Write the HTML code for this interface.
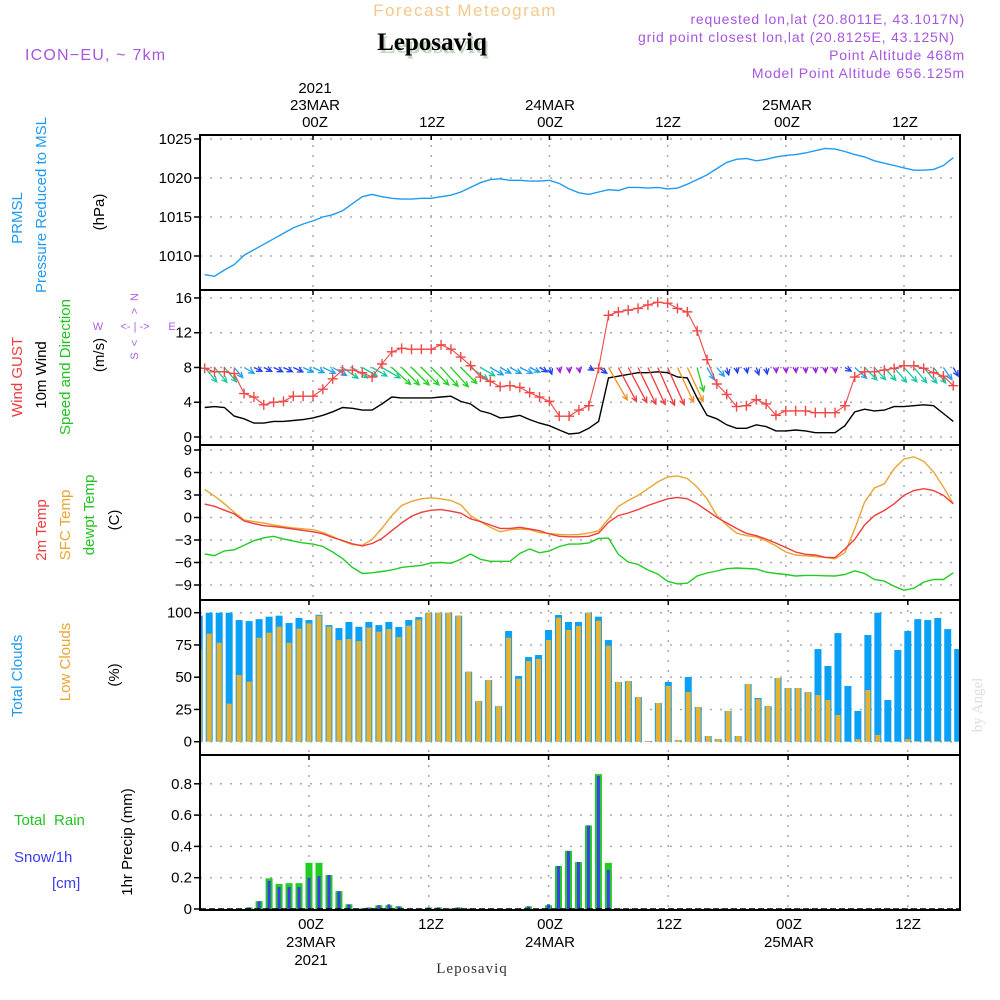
<!DOCTYPE html>
<html><head><meta charset="utf-8">
<style>
html,body{margin:0;padding:0;background:#fff;}
svg{display:block;}
text{font-family:"Liberation Sans",sans-serif;}
text.serif{font-family:"Liberation Serif",serif;}
</style></head>
<body>
<svg id="chart" width="1000" height="1000" viewBox="0 0 1000 1000" xmlns="http://www.w3.org/2000/svg">
<g id="texts">
<text x="465" y="16" text-anchor="middle" font-size="17" fill="#f3c98a" letter-spacing="1.5">Forecast Meteogram</text>
<text class="serif" x="432" y="50" text-anchor="middle" font-size="25" font-weight="bold" fill="#9bb89b" opacity="0.6" transform="translate(2,3)">Leposaviq</text>
<text class="serif" x="432" y="50" text-anchor="middle" font-size="25" font-weight="bold" fill="#000">Leposaviq</text>
<text x="965" y="24" text-anchor="end" font-size="14" fill="#a855e0" letter-spacing="0.8">requested lon,lat (20.8011E, 43.1017N)</text>
<text x="955" y="42" text-anchor="end" font-size="14" fill="#a855e0" letter-spacing="0.8">grid point closest lon,lat (20.8125E, 43.125N)</text>
<text x="965" y="60" text-anchor="end" font-size="14" fill="#a855e0" letter-spacing="0.8">Point Altitude 468m</text>
<text x="965" y="78" text-anchor="end" font-size="14" fill="#a855e0" letter-spacing="0.8">Model Point Altitude 656.125m</text>
<text x="25" y="60" font-size="16" fill="#a855e0" letter-spacing="1.2">ICON−EU, ~ 7km</text>

<g font-size="15" fill="#000" text-anchor="middle">
<text x="315" y="93">2021</text>
<text x="315" y="110">23MAR</text>
<text x="315" y="127">00Z</text>
<text x="432" y="127">12Z</text>
<text x="550" y="110">24MAR</text>
<text x="550" y="127">00Z</text>
<text x="668" y="127">12Z</text>
<text x="787" y="110">25MAR</text>
<text x="787" y="127">00Z</text>
<text x="905" y="127">12Z</text>
</g>
<g font-size="15" fill="#000" text-anchor="middle">
<text x="311" y="929">00Z</text>
<text x="311" y="947">23MAR</text>
<text x="311" y="965">2021</text>
<text x="431" y="929">12Z</text>
<text x="550" y="929">00Z</text>
<text x="550" y="947">24MAR</text>
<text x="669" y="929">12Z</text>
<text x="789" y="929">00Z</text>
<text x="789" y="947">25MAR</text>
<text x="908" y="929">12Z</text>
</g>
<text class="serif" x="472" y="973" text-anchor="middle" font-size="15" fill="#333" letter-spacing="1">Leposaviq</text>
<text class="serif" transform="translate(982,705) rotate(-90)" text-anchor="middle" font-size="15" fill="#ddd">by Angel</text>

<g font-size="15" text-anchor="middle" dominant-baseline="middle">
<text transform="translate(18,218) rotate(-90)" fill="#1e9bf0">PRMSL</text>
<text transform="translate(42,205) rotate(-90)" fill="#1e9bf0">Pressure Reduced to MSL</text>
<text transform="translate(100,212) rotate(-90)" fill="#000">(hPa)</text>
<text transform="translate(18,377) rotate(-90)" fill="#f03c3c">Wind GUST</text>
<text transform="translate(42,375) rotate(-90)" fill="#000">10m Wind</text>
<text transform="translate(66,367) rotate(-90)" fill="#22c422">Speed and Direction</text>
<text transform="translate(100,355) rotate(-90)" fill="#000">(m/s)</text>
<text transform="translate(42,530) rotate(-90)" fill="#f03c3c">2m Temp</text>
<text transform="translate(66,525) rotate(-90)" fill="#eaa530">SFC Temp</text>
<text transform="translate(90,515) rotate(-90)" fill="#22c422">dewpt Temp</text>
<text transform="translate(115,520) rotate(-90)" fill="#000">(C)</text>
<text transform="translate(18,676) rotate(-90)" fill="#1e9bf0">Total Clouds</text>
<text transform="translate(66,662) rotate(-90)" fill="#eaa530">Low Clouds</text>
<text transform="translate(115,675) rotate(-90)" fill="#000">(%)</text>
<text transform="translate(128,842) rotate(-90)" fill="#000">1hr Precip (mm)</text>
</g>
<text x="14" y="825" font-size="15" fill="#22c422" xml:space="preserve">Total  Rain</text>
<text x="14" y="862" font-size="15" fill="#3c3cf0">Snow/1h</text>
<text x="52" y="888" font-size="15" fill="#3c3cf0">[cm]</text>

<g fill="#b060e0" font-size="11" text-anchor="middle" dominant-baseline="middle">
<text transform="translate(135,297) rotate(-90)">N</text>
<text transform="translate(135,311) rotate(-90)">&gt;</text>
<text x="135" y="327">&lt;- | -&gt;</text>
<text transform="translate(135,343) rotate(-90)">&lt;</text>
<text transform="translate(135,356) rotate(-90)">S</text>
<text x="98" y="327">W</text>
<text x="172" y="327">E</text>
</g>
</g>
<g id="plots"></g>
</svg>
<script>
// ---- data (hourly, hour -11 .. 65 relative to 23MAR 00Z) ----
const pressure = [1007.6,1007.4,1008.2,1008.9,1010.1,1010.8,1011.5,1012.2,1012.9,1013.6,1014.1,1014.5,1015.0,1015.3,1015.8,1016.7,1017.6,1017.9,1017.6,1017.4,1017.3,1017.3,1017.4,1017.4,1017.6,1017.8,1018.2,1018.8,1019.4,1019.8,1019.9,1019.7,1019.7,1019.6,1019.6,1019.7,1019.3,1018.6,1018.1,1017.9,1018.2,1018.5,1018.4,1018.8,1018.8,1018.7,1018.8,1018.6,1018.7,1019.2,1019.8,1020.4,1021.2,1022.0,1022.4,1022.5,1022.2,1022.4,1022.7,1022.9,1023.0,1023.2,1023.5,1023.8,1023.7,1023.4,1023.0,1022.7,1022.2,1021.9,1021.6,1021.3,1021.0,1021.0,1021.1,1021.6,1022.6];
const windGust = [7.9,7.5,7.5,7.3,5.0,4.6,3.7,4.0,4.1,4.7,4.7,4.7,5.5,6.7,7.7,7.7,7.4,6.9,8.4,9.8,10.2,10.1,10.1,10.1,10.6,10.1,9.2,8.2,6.9,6.4,5.8,5.9,5.7,5.1,4.6,4.1,2.4,2.4,3.1,3.6,7.9,14.0,14.4,14.6,14.8,15.2,15.5,15.4,14.8,14.4,12.2,8.9,6.1,4.9,3.5,3.6,4.3,3.8,2.5,3.0,3.0,3.0,2.8,2.8,2.8,3.6,6.9,7.5,7.5,7.7,7.9,8.2,8.2,7.9,7.4,7.0,5.9];
const windSpeed = [3.4,3.5,3.4,2.4,2.1,1.6,1.6,1.8,1.8,1.9,2.0,2.2,2.5,2.9,3.4,3.3,3.1,3.1,3.8,4.6,4.5,4.5,4.5,4.5,4.6,4.7,4.1,3.8,3.0,2.7,2.2,2.3,2.5,2.0,1.6,1.3,0.8,0.35,0.45,1.0,1.8,6.8,7.0,7.2,7.4,7.4,7.5,7.4,6.9,6.8,4.5,2.5,2.1,1.4,1.0,1.0,1.4,1.2,0.7,0.7,0.8,0.7,0.5,0.5,0.5,1.3,2.9,3.2,3.0,3.1,3.5,3.5,3.6,3.7,3.6,2.7,1.8];
const windDir = [320,320,320,320,300,295,295,295,295,295,295,295,295,300,305,305,300,300,300,312,315,315,315,315,318,318,315,305,300,300,298,298,295,295,300,340,350,355,350,300,305,330,332,332,334,335,336,336,335,335,345,330,320,345,350,350,340,350,355,355,355,355,355,355,355,300,312,315,318,318,320,318,320,320,322,325,330];
const temp2m = [1.78,1.5,0.97,0.48,-0.46,-0.82,-1.09,-1.22,-1.36,-1.54,-1.72,-1.9,-2.17,-2.66,-3.06,-3.5,-3.78,-3.47,-2.8,-1.76,-0.73,0.17,0.7,0.97,1.06,0.84,0.57,-0.19,-0.55,-1.0,-1.45,-1.45,-1.3,-1.54,-1.76,-2.2,-2.5,-2.57,-2.57,-2.5,-2.08,-0.64,0.25,0.6,1.06,1.6,2.05,2.5,2.68,2.5,1.83,0.93,0.03,-0.73,-1.45,-2.12,-2.43,-2.88,-3.42,-4.0,-4.6,-4.9,-5.0,-5.3,-5.35,-4.2,-2.9,-1.0,0.25,0.93,1.83,2.95,3.6,3.84,3.6,2.95,1.83];
const tempSfc = [3.75,2.86,1.83,0.7,-0.33,-0.55,-0.73,-1.0,-1.22,-1.4,-1.5,-1.63,-2.0,-2.53,-3.15,-3.6,-3.7,-2.9,-1.45,0.25,1.6,2.14,2.5,2.63,2.5,2.27,1.7,0.25,-0.55,-1.3,-1.9,-1.63,-1.54,-1.63,-2.0,-2.12,-2.26,-2.3,-2.26,-2.08,-1.76,-0.19,1.47,2.27,2.95,3.84,4.74,5.4,5.55,5.2,4.07,2.5,0.25,-1.0,-2.08,-2.43,-2.57,-3.1,-3.78,-4.6,-5.0,-5.1,-5.2,-5.35,-5.5,-4.7,-1.5,2.05,3.93,4.5,6.5,7.8,8.1,7.5,6.1,4.07,1.83];
const dewpoint = [-4.86,-5.08,-4.45,-4.3,-3.7,-3.1,-2.7,-2.5,-2.85,-3.15,-3.38,-3.55,-3.87,-4.6,-5.48,-6.65,-7.46,-7.37,-7.2,-7.0,-6.65,-6.5,-6.38,-6.07,-6.0,-6.1,-5.57,-4.86,-5.57,-5.84,-5.84,-5.84,-4.77,-4.2,-4.7,-4.45,-3.87,-3.55,-3.55,-3.38,-2.8,-2.75,-4.9,-5.93,-6.25,-7.0,-7.55,-8.5,-8.85,-8.76,-7.8,-7.4,-7.14,-6.83,-6.74,-6.8,-6.87,-7.28,-7.46,-7.6,-7.8,-7.72,-7.72,-7.77,-7.8,-7.6,-7.1,-7.46,-8.26,-8.48,-9.16,-9.7,-9.43,-8.62,-8.26,-8.26,-7.37];
const totalClouds = [97.7,100,100,100,94.3,93.5,95,96.9,97.7,92,95.9,94.3,98.4,90.4,88.1,92.8,89.1,92.8,90.4,92.8,88.9,94.3,96.6,100,100,100,97.7,54.3,31.5,47.8,27.6,85.8,50.9,65.6,67.2,86.6,98.2,92.8,92.8,100,96.9,78.8,46.3,47,34.6,0.5,30,46.3,1.3,50.1,26.9,4.4,2,23.8,4.4,44.7,33.9,27.6,49.4,41.6,41.6,38.5,71.8,58.7,84.2,43.2,23.8,82.7,100,32.3,71.1,85.8,95,94.3,95.9,87.3,71.8];
const lowClouds = [71.6,83.7,76.7,29.5,51.7,46.5,80.6,84.5,89.1,76.7,87.6,91.7,97.7,89.1,78.8,79.6,78,88.4,85.3,87.3,81.1,89.9,94.6,100,100,100,97.7,54.3,31.5,47.8,27.6,80.6,48.8,62.5,64.1,78.8,96.1,86.6,89.7,100,93.8,74.4,46.3,47,34.6,0.5,30,43.2,1.3,38.5,26.9,4.4,2,23.8,4.4,44.7,33,27.6,49.4,41.6,41.6,38.5,36.2,32.3,20.7,0,2,40,5.2,0,0,2,0.5,0.5,0.5,0.5,0];
const totalRain = [0,0,0,0,0,0.01,0.05,0.196,0.16,0.165,0.165,0.295,0.295,0.217,0.114,0.03,0.002,0.009,0.024,0.024,0.017,0,0.003,0.01,0.01,0.003,0.01,0.002,0,0,0,0,0,0.017,0,0.024,0.275,0.372,0.3,0.534,0.862,0.295,0.002,0,0,0,0,0,0,0,0,0,0,0,0,0,0,0,0,0,0,0,0,0,0,0,0,0,0,0,0,0,0,0,0,0,0];
const snow = [0,0,0,0,0,0.01,0.05,0.18,0.14,0.14,0.14,0.2,0.21,0.217,0.114,0.03,0.002,0.009,0.024,0.03,0.017,0,0.003,0.01,0.01,0.003,0.01,0.002,0,0,0,0,0,0.017,0,0.03,0.275,0.37,0.3,0.534,0.85,0.25,0.002,0,0,0,0,0,0,0,0,0,0,0,0,0,0,0,0,0,0,0,0,0,0,0,0,0,0,0,0,0,0,0,0,0,0];
const firstHour = -11;
const pressureTicks = [1025,1020,1015,1010];
const windTicks = [16,12,8,4,0];
const tempTicks = [9,6,3,0,-3,-6,-9];
const cloudTicks = [100,75,50,25,0];
const precipTicks = [0.8,0.6,0.4,0.2,0];
const gridHours = [0,12,24,36,48,60];

// ---- axis functions ----
const L = 200, R = 960;
function xLine(h){ return 313 + h*9.85; }
function xBar(h){ return 309 + h*9.98; }
function yP(v){ return 139 + (1025 - v)*7.8; }
function yW(v){ return 437 - v*8.69; }
function yT(v){ return 450 + (9 - v)*7.5; }
function yC(v){ return 741.7 - v*1.29; }
function yR(v){ return 909 - v*156.5; }

const NS = 'http://www.w3.org/2000/svg';
const plots = document.getElementById('plots');
function mk(tag, attrs, parent){
  const e = document.createElementNS(NS, tag);
  for (const k in attrs) e.setAttribute(k, attrs[k]);
  (parent || plots).appendChild(e);
  return e;
}

const panels = [
  {name:'pressure', top:135, bot:290, ticks:pressureTicks, y:yP, x:xLine, fmt:v=>String(v)},
  {name:'wind', top:290, bot:445, ticks:windTicks, y:yW, x:xLine, fmt:v=>String(v)},
  {name:'temperature', top:445, bot:600, ticks:tempTicks, y:yT, x:xLine, fmt:v=>String(v).replace('-','−')},
  {name:'clouds', top:600, bot:755, ticks:cloudTicks, y:yC, x:xBar, fmt:v=>String(v)},
  {name:'precip', top:755, bot:910, ticks:precipTicks, y:yR, x:xBar, fmt:v=>v===0?'0':v.toFixed(1)}
];

const defs = mk('defs', {});
panels.forEach(p=>{
  const cp = mk('clipPath', {id:'clip-'+p.name}, defs);
  mk('rect', {x:L, y:p.top, width:R-L, height:p.bot-p.top}, cp);
});

panels.forEach(p=>{
  const g = mk('g', {});
  
  
  p.g = g;
  p.ticks.forEach(t=>{
    const y = p.y(t);
    const gl = mk('line', {x1:L, x2:R, y1:y, y2:y, stroke:'#aaa', 'stroke-width':1.5, 'stroke-dasharray':'2,8'}, g);
    
    
    const tk = mk('line', {x1:L-6, x2:L, y1:y, y2:y, stroke:'#000', 'stroke-width':1.5}, g);
    
    
    const tl = mk('text', {x:L-8, y:y+5, 'text-anchor':'end', 'font-size':15, fill:'#000'}, g);
    tl.textContent = p.fmt(t);
    
    
  });
  gridHours.forEach(h=>{
    const x = p.x(h);
    const vl = mk('line', {x1:x, x2:x, y1:p.top, y2:p.bot, stroke:'#aaa', 'stroke-width':1.5, 'stroke-dasharray':'2,8'}, g);
    
    
  });
});

function linePath(arr, p, color, name, width){
  let d = '';
  arr.forEach((v,i)=>{ d += (i?'L':'M') + p.x(firstHour+i).toFixed(1) + ',' + p.y(v).toFixed(1); });
  const e = mk('path', {d:d, fill:'none', stroke:color, 'stroke-width':width||1.4, 'clip-path':'url(#clip-'+p.name+')'}, p.g);
  
  
  return e;
}

linePath(pressure, panels[0], '#1e9bf0', 'pressure-line');

const pw = panels[1];
linePath(windSpeed, pw, '#000', 'wind-speed-line');
function windColor(s){
  if (s < 1) return '#9b20d8';
  if (s < 2) return '#2040f0';
  if (s < 3) return '#20a0f0';
  if (s < 4) return '#18c8a0';
  if (s < 5) return '#20d020';
  if (s < 6) return '#a0e020';
  if (s < 7) return '#f09020';
  return '#f03c3c';
}
windSpeed.forEach((s,i)=>{
  const x0 = pw.x(firstHour+i), y0 = pw.y(8);
  const a = windDir[i]*Math.PI/180;
  const len = Math.max(s*5.5, 5);
  const dx = -Math.sin(a)*len, dy = Math.cos(a)*len;
  const x1 = x0+dx, y1 = y0+dy;
  const ang = Math.atan2(dy,dx);
  const hl = 6;
  const c = windColor(s);
  const d = 'M'+x0.toFixed(1)+','+y0.toFixed(1)+'L'+x1.toFixed(1)+','+y1.toFixed(1)+
    'M'+(x1-hl*Math.cos(ang-0.45)).toFixed(1)+','+(y1-hl*Math.sin(ang-0.45)).toFixed(1)+'L'+x1.toFixed(1)+','+y1.toFixed(1)+
    'L'+(x1-hl*Math.cos(ang+0.45)).toFixed(1)+','+(y1-hl*Math.sin(ang+0.45)).toFixed(1);
  const ar = mk('path', {d:d, fill:'none', stroke:c, 'stroke-width':1.3, 'clip-path':'url(#clip-wind)'}, pw.g);
  
  
});
linePath(windGust, pw, '#f04848', 'wind-gust-line', 1.1);
windGust.forEach((v,i)=>{
  const x = pw.x(firstHour+i), y = pw.y(v);
  const m = mk('path', {d:'M'+(x-5)+','+y+'h10M'+x+','+(y-5)+'v10', stroke:'#f04848', 'stroke-width':1.4, 'clip-path':'url(#clip-wind)'}, pw.g);
  
  
});

const pt = panels[2];
linePath(dewpoint, pt, '#22cc22', 'dewpoint-line');
linePath(tempSfc, pt, '#eaa530', 'sfc-temp-line');
linePath(temp2m, pt, '#f03c3c', 'temp-2m-line');

const pc = panels[3];
totalClouds.forEach((v,i)=>{
  const x = pc.x(firstHour+i);
  const b = mk('rect', {x:x-3.5, y:pc.y(v), width:7, height:Math.max(pc.y(0)-pc.y(v),0), fill:'#0aa0f5', 'clip-path':'url(#clip-clouds)'}, pc.g);
  
  
});
lowClouds.forEach((v,i)=>{
  const x = pc.x(firstHour+i);
  const b = mk('rect', {x:x-2.5, y:pc.y(v), width:5, height:Math.max(pc.y(0)-pc.y(v),0), fill:'#e8b030', 'clip-path':'url(#clip-clouds)'}, pc.g);
  
  
});

const pr = panels[4];
totalRain.forEach((v,i)=>{
  if (v <= 0) return;
  const x = pr.x(firstHour+i);
  const b = mk('rect', {x:x-3.5, y:pr.y(v), width:7, height:pr.y(0)-pr.y(v), fill:'#22cc22', 'clip-path':'url(#clip-precip)'}, pr.g);
  
  
});
snow.forEach((v,i)=>{
  if (v <= 0) return;
  const x = pr.x(firstHour+i);
  const b = mk('rect', {x:x-1.5, y:pr.y(v), width:3, height:pr.y(0)-pr.y(v), fill:'#3c3cf0', 'clip-path':'url(#clip-precip)'}, pr.g);
  
  
});
const base = mk('line', {x1:L, x2:R, y1:yR(0), y2:yR(0), stroke:'#000', 'stroke-width':1.5, 'stroke-dasharray':'6,3'}, pr.g);



panels.forEach(p=>{
  const r = mk('rect', {x:L, y:p.top, width:R-L, height:p.bot-p.top, fill:'none', stroke:'#000', 'stroke-width':2}, p.g);
  
  
  gridHours.forEach(h=>{
    const x = p.x(h);
    const tk = mk('line', {x1:x, x2:x, y1:p.top, y2:p.top+5, stroke:'#000', 'stroke-width':1.5}, p.g);
    
    
  });
});
</script>
</body></html>
